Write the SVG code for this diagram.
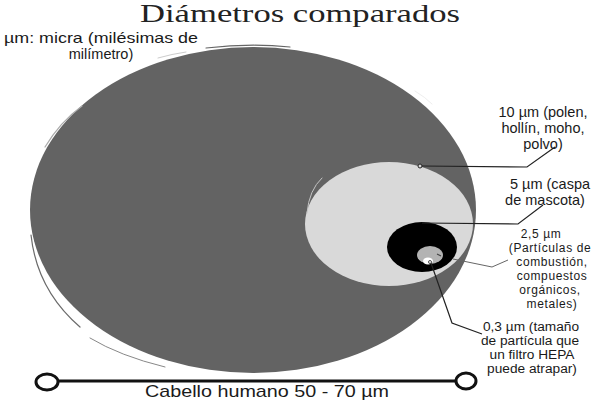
<svg xmlns="http://www.w3.org/2000/svg" width="600" height="400" viewBox="0 0 600 400">
<style>
.lbl{font-family:"Liberation Sans",Arial,sans-serif;font-size:12px;letter-spacing:0.6px;fill:#1a1a1a;text-anchor:middle}
.big{font-size:14.5px;letter-spacing:0}
.mid{font-size:13.7px;letter-spacing:0}
.lead{fill:none;stroke:#222;stroke-width:1.2}
.scr{fill:none;stroke-linecap:round}
</style>
<rect width="600" height="400" fill="#ffffff"/>
<text x="300" y="22" font-family="Liberation Serif,'DejaVu Serif',serif" font-size="25" fill="#222" text-anchor="middle" textLength="320" lengthAdjust="spacingAndGlyphs">Diámetros comparados</text>
<g id="note">
<text x="101" y="43" class="lbl" style="font-size:14.5px;letter-spacing:0" textLength="194" lengthAdjust="spacingAndGlyphs">µm: micra (milésimas de</text>
<text x="101" y="59" class="lbl" style="font-size:14.5px;letter-spacing:0">milímetro)</text>
</g>
<g id="hair">
<ellipse cx="253" cy="210" rx="223" ry="163" fill="#636363"/>
<path class="scr" stroke="#6a6a6a" stroke-width="1.2" d="M31 235 Q37 290 80 327"/>
<path class="scr" stroke="#888" stroke-width="1" d="M90 338 Q120 356 165 367"/>
<path class="scr" stroke="#666" stroke-width="1.2" d="M206 48 Q250 43 290 47"/>
<path class="scr" stroke="#ccc" stroke-width="1" d="M158 58 Q172 54 186 52"/>
<path class="scr" stroke="#aaa" stroke-width="1.2" d="M45 147 Q60 122 82 106"/>
<path class="scr" stroke="#eee" stroke-width="1" d="M415 91 Q425 97 432 104"/>
</g>
<g id="pollen">
<ellipse cx="389" cy="224" rx="84" ry="62" fill="#d9d9d9"/>
<path class="scr" stroke="#c4c4c4" stroke-width="1" d="M307 213 Q309 190 322 178"/>
</g>
<g id="dander">
<ellipse cx="422" cy="247" rx="35" ry="25" fill="#000000"/>
</g>
<g id="pm25">
<ellipse cx="430" cy="255" rx="13" ry="9" fill="#b3b3b3"/>
</g>
<g id="hepa">
<ellipse cx="428" cy="261" rx="5" ry="3.5" fill="#ffffff"/>
</g>
<g id="connectors">
<circle cx="420" cy="166" r="2" fill="#d9d9d9" stroke="#222" stroke-width="1"/>
<polyline class="lead" points="422,166 527,167 555,147"/>
<polyline class="lead" points="422,223 518,224 543,205"/>
<line x1="437" y1="254" x2="441" y2="256" stroke="#444" stroke-width="1.2"/>
<polyline fill="none" stroke="#666" stroke-width="1" points="453,259 492,267 508,260"/>
<circle cx="430" cy="262" r="1.5" fill="#fff" stroke="#222" stroke-width="0.8"/>
<polyline class="lead" points="431,263 452,323 482,334"/>
</g>
<g id="labels">
<text class="lbl big" x="543" y="117">10 µm (polen,</text>
<text class="lbl big" x="543" y="133">hollín, moho,</text>
<text class="lbl big" x="543" y="149">polvo)</text>
<text class="lbl big" x="550" y="189">5 µm (caspa</text>
<text class="lbl big" x="545" y="205">de mascota)</text>
<text class="lbl" x="541" y="238">2,5 µm</text>
<text class="lbl" x="550" y="252">(Partículas de</text>
<text class="lbl" x="552" y="266">combustión,</text>
<text class="lbl" x="552" y="280">compuestos</text>
<text class="lbl" x="550" y="294">orgánicos,</text>
<text class="lbl" x="552" y="308">metales)</text>
<text class="lbl mid" x="531" y="331">0,3 µm (tamaño</text>
<text class="lbl mid" x="530" y="345">de partícula que</text>
<text class="lbl mid" x="532" y="359">un filtro HEPA</text>
<text class="lbl mid" x="532" y="373">puede atrapar)</text>
</g>
<g id="scale">
<line x1="58" y1="381" x2="456" y2="381" stroke="#111" stroke-width="3"/>
<ellipse cx="47" cy="382" rx="11" ry="8" fill="#fff" stroke="#111" stroke-width="3"/>
<ellipse cx="466" cy="381" rx="10" ry="8" fill="#fff" stroke="#111" stroke-width="3"/>
<text x="267" y="397" font-family="Liberation Sans,Arial,sans-serif" font-size="17" fill="#1a1a1a" text-anchor="middle" textLength="244" lengthAdjust="spacingAndGlyphs">Cabello humano 50 - 70 µm</text>
</g>
</svg>
